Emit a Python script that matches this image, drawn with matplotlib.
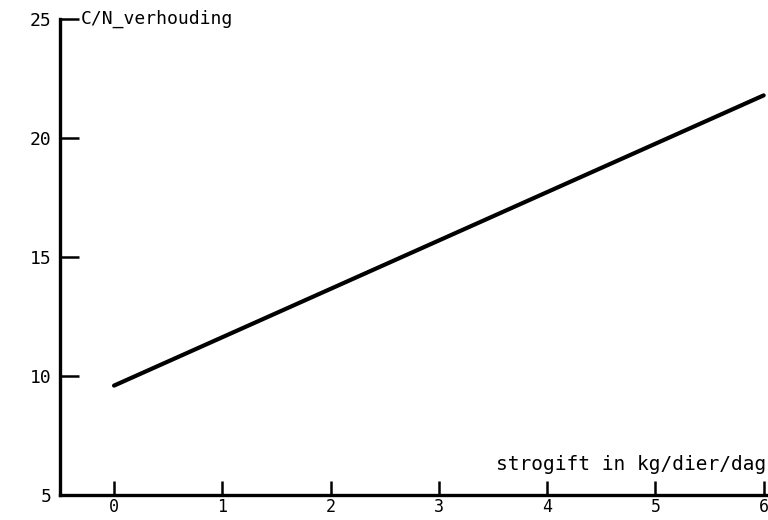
import numpy as np
import matplotlib
matplotlib.use("Agg")
import matplotlib.pyplot as plt

# C/N ratio vs. straw given
strogift = [0, 6]
cn_verhouding = [9.6, 21.8]
x_ticks = [0, 1, 2, 3, 4, 5, 6]
y_ticks = [5, 10, 15, 20, 25]

FONT = "DejaVu Sans Mono"

fig = plt.figure(figsize=(7.68, 5.2), dpi=100)
ax = fig.add_axes([0.078, 0.048, 0.922, 0.915])

ax.plot(strogift, cn_verhouding, color="black", linewidth=3.0, solid_capstyle="round")

ax.set_xlim(-0.5, 6.04)
ax.set_ylim(5, 25)
ax.set_xticks(x_ticks)
ax.set_yticks(y_ticks)
ax.set_xticklabels([str(v) for v in x_ticks], family=FONT, fontsize=12)
ax.set_yticklabels([str(v) for v in y_ticks], family=FONT, fontsize=13)

ax.spines["top"].set_visible(False)
ax.spines["right"].set_visible(False)
ax.spines["left"].set_linewidth(2.4)
ax.spines["bottom"].set_linewidth(2.4)
ax.tick_params(axis="x", direction="in", length=10, width=1.8, pad=2)
ax.tick_params(axis="y", direction="in", length=14, width=1.8, pad=6)

ax.text(0.03, 1.0, "C/N_verhouding", transform=ax.transAxes, family=FONT,
        fontsize=13, ha="left", va="center")
ax.text(0.997, 0.065, "strogift in kg/dier/dag", transform=ax.transAxes, family=FONT,
        fontsize=14, ha="right", va="center")

fig.savefig("out.png", dpi=100)
